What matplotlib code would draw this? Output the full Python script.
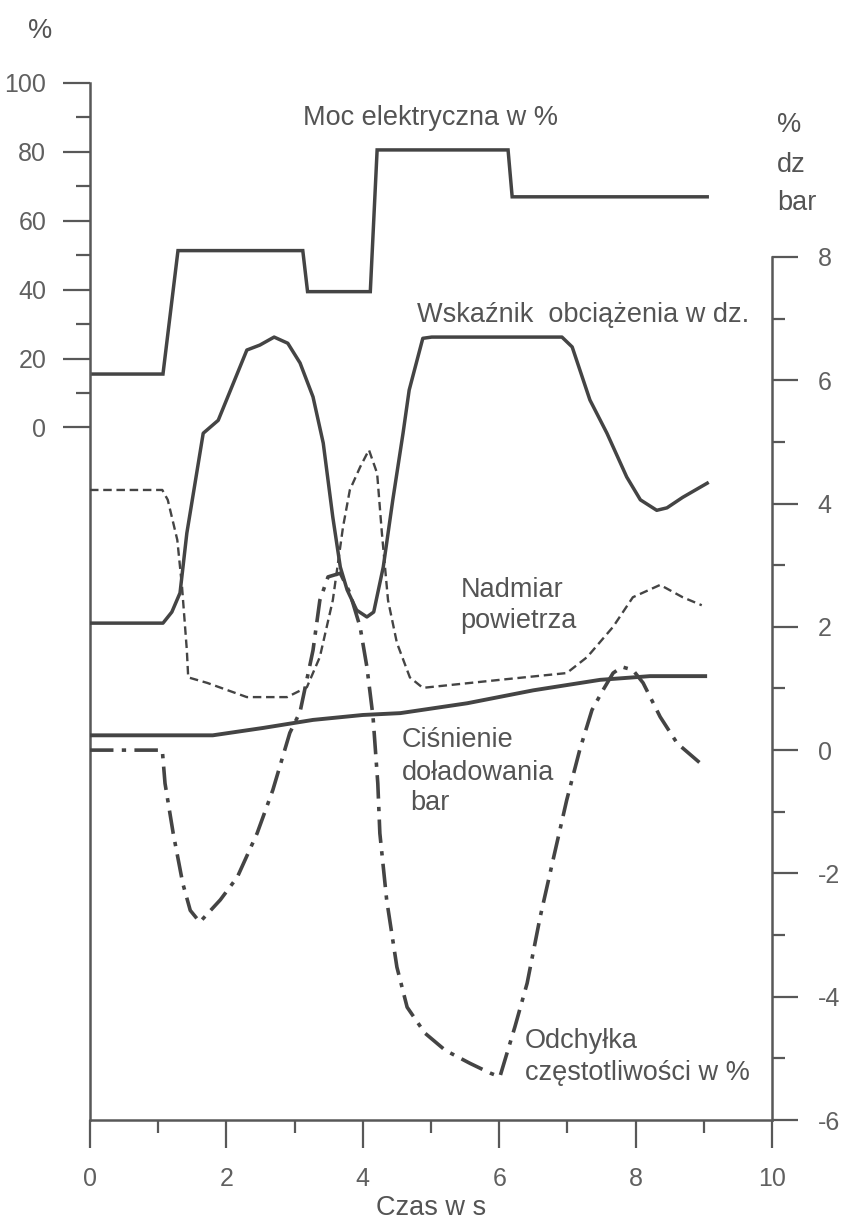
import matplotlib
matplotlib.use('Agg')
import matplotlib.pyplot as plt

plt.rcParams['font.family'] = ['Liberation Sans', 'DejaVu Sans']
plt.rcParams['axes.unicode_minus'] = False

# ---------------- data ----------------
# Moc elektryczna w % (left axis)
power_t = [0, 1.07, 1.29, 3.12, 3.19, 4.11, 4.21, 6.13, 6.19, 9.05]
power_pct = [15.5, 15.5, 51.3, 51.3, 39.4, 39.4, 80.5, 80.5, 66.9, 66.9]

# Wskaźnik obciążenia w dz. (right axis)
load_t = [0, 1.07, 1.20, 1.32, 1.42, 1.54, 1.66, 1.88, 2.30, 2.49, 2.70, 2.90,
          3.08, 3.27, 3.42, 3.56, 3.67, 3.77, 3.91, 4.06, 4.16, 4.30, 4.44,
          4.59, 4.68, 4.88, 5.01, 6.92, 7.07, 7.33, 7.58, 7.87, 8.07, 8.31,
          8.46, 8.69, 9.05]
load_dz = [2.06, 2.06, 2.24, 2.55, 3.52, 4.33, 5.14, 5.35, 6.49, 6.57, 6.70, 6.60,
           6.28, 5.73, 4.98, 3.78, 2.97, 2.60, 2.27, 2.16, 2.24, 2.97, 4.06,
           5.14, 5.84, 6.68, 6.70, 6.70, 6.54, 5.68, 5.14, 4.43, 4.06, 3.89,
           3.93, 4.10, 4.33]

# Nadmiar powietrza (right axis)
air_t = [0, 1.06, 1.14, 1.28, 1.35, 1.42, 1.44, 1.72, 2.30, 2.89, 3.18, 3.37,
         3.56, 3.71, 3.81, 3.96, 4.09, 4.21, 4.28, 4.37, 4.50, 4.69, 4.88,
         6.01, 6.99, 7.29, 7.67, 7.96, 8.36, 8.69, 8.97]
air_val = [4.22, 4.22, 4.06, 3.41, 2.64, 1.62, 1.18, 1.09, 0.86, 0.86, 1.02, 1.51,
           2.43, 3.62, 4.22, 4.59, 4.87, 4.49, 3.52, 2.43, 1.74, 1.18, 1.01,
           1.14, 1.25, 1.51, 2.00, 2.48, 2.68, 2.48, 2.35]

# Ciśnienie doładowania bar (right axis)
boost_t = [0, 1.80, 2.54, 3.27, 4.00, 4.55, 5.53, 6.50, 7.48, 8.21, 9.02]
boost_bar = [0.24, 0.24, 0.36, 0.49, 0.57, 0.60, 0.76, 0.97, 1.14, 1.20, 1.20]

# Odchyłka częstotliwości w % (right axis)
freq_t = [0, 1.06, 1.10, 1.22, 1.36, 1.47, 1.61, 1.91, 2.16, 2.45, 2.68, 2.93,
          3.08, 3.27, 3.37, 3.49, 3.67, 3.81, 3.96, 4.06, 4.15, 4.22, 4.25,
          4.35, 4.50, 4.65, 4.91, 5.21, 5.57, 5.87, 6.01, 6.23, 6.41, 6.60,
          6.79, 6.99, 7.18, 7.36, 7.52, 7.67, 7.80, 7.96, 8.11, 8.36, 8.61, 9.02]
freq_dev = [0, 0, -0.54, -1.35, -2.16, -2.60, -2.79, -2.43, -2.06, -1.35, -0.65, 0.28,
            0.62, 1.62, 2.43, 2.81, 2.87, 2.55, 2.00, 1.35, 0.54, -0.54, -1.35,
            -2.43, -3.52, -4.17, -4.59, -4.87, -5.08, -5.24, -5.30, -4.49, -3.78, -2.71,
            -1.78, -0.81, 0.0, 0.65, 0.97, 1.25, 1.35, 1.30, 1.09, 0.54, 0.11, -0.28]

x_major = [0, 2, 4, 6, 8, 10]
x_minor = [1, 3, 5, 7, 9]
left_major = [0, 20, 40, 60, 80, 100]
left_minor = [10, 30, 50, 70, 90]
right_major = [-6, -4, -2, 0, 2, 4, 6, 8]
right_major_labels = ['-6', '-4', '-2', '0', '2', '4', '6', '8']
right_minor = [-5, -3, -1, 1, 3, 5, 7]

# ---------------- style ----------------
LINE = '#444444'
AXC = '#585858'
TXT = '#545454'
TICKC = '#606060'

fig = plt.figure(figsize=(8.43, 12.21), dpi=100)
fig.patch.set_facecolor('white')
ax = fig.add_axes([90 / 843, 1 - 1120 / 1221, 682 / 843, (1120 - 72) / 1221])
axr = ax.twinx()
ax.set_xlim(0, 10)
ax.set_ylim(-200.84, 103.10)
axr.set_ylim(-6, 11)
ax.patch.set_visible(False)

# curves
ax.plot(power_t, power_pct, color=LINE, lw=2.5, solid_joinstyle='miter')
axr.plot(load_t, load_dz, color=LINE, lw=2.5)
axr.plot(air_t, air_val, color=LINE, lw=1.7, linestyle=(0, (3.6, 2.0)))
axr.plot(boost_t, boost_bar, color=LINE, lw=2.8)
axr.plot(freq_t, freq_dev, color=LINE, lw=2.6,
         linestyle=(0, (6.5, 2.3, 1.2, 2.3)))

# spines
for s in ['top', 'right']:
    ax.spines[s].set_visible(False)
for s in ['top', 'left', 'bottom']:
    axr.spines[s].set_visible(False)
ax.spines['left'].set_bounds(-200.84, 100)
ax.spines['bottom'].set_bounds(0, 10)
axr.spines['right'].set_bounds(-6, 8)
for sp in [ax.spines['left'], ax.spines['bottom'], axr.spines['right']]:
    sp.set_color(AXC)
    sp.set_linewidth(1.8)

# ticks
ax.set_xticks(x_major)
ax.set_xticks(x_minor, minor=True)
ax.set_xticklabels([str(v) for v in x_major])
ax.set_yticks(left_major)
ax.set_yticks(left_minor, minor=True)
ax.set_yticklabels([str(v) for v in left_major])
axr.set_yticks(right_major)
axr.set_yticks(right_minor, minor=True)
axr.set_yticklabels(right_major_labels)

ax.tick_params(axis='x', which='major', direction='out', length=20, width=1.6,
               pad=14, labelsize=18, color=AXC, labelcolor=TICKC)
ax.tick_params(axis='x', which='minor', direction='out', length=9.5, width=1.6, color=AXC)
ax.tick_params(axis='y', which='major', direction='out', length=19.5, width=1.6,
               pad=12, labelsize=18, color=AXC, labelcolor=TICKC)
ax.tick_params(axis='y', which='minor', direction='out', length=10, width=1.6, color=AXC)
axr.tick_params(axis='y', which='major', direction='out', length=19, width=1.6,
                pad=14, labelsize=18, color=AXC, labelcolor=TICKC)
axr.tick_params(axis='y', which='minor', direction='out', length=9.5, width=1.6, color=AXC)

ax.set_xlabel('Czas w s', fontsize=19.5, color=TXT, labelpad=3)

# annotations (right-axis data coordinates)
fs = 19.5
def lab(x, y, s):
    axr.text(x, y, s, ha='left', va='baseline', fontsize=fs, color=TXT, clip_on=False)

lab(-0.91, 11.55, '%')
lab(10.07, 10.03, '%')
lab(10.07, 9.38, 'dz')
lab(10.07, 8.76, 'bar')
lab(3.12, 10.14, 'Moc elektryczna w %')
lab(4.79, 6.94, 'Wskaźnik  obciążenia w dz.')
lab(5.43, 2.48, 'Nadmiar')
lab(5.43, 1.98, 'powietrza')
lab(4.57, 0.05, 'Ciśnienie')
lab(4.57, -0.49, 'doładowania')
lab(4.69, -0.97, 'bar')
lab(6.38, -4.83, 'Odchyłka')
lab(6.38, -5.35, 'częstotliwości w %')

fig.savefig('out.png', dpi=100, facecolor='white')
